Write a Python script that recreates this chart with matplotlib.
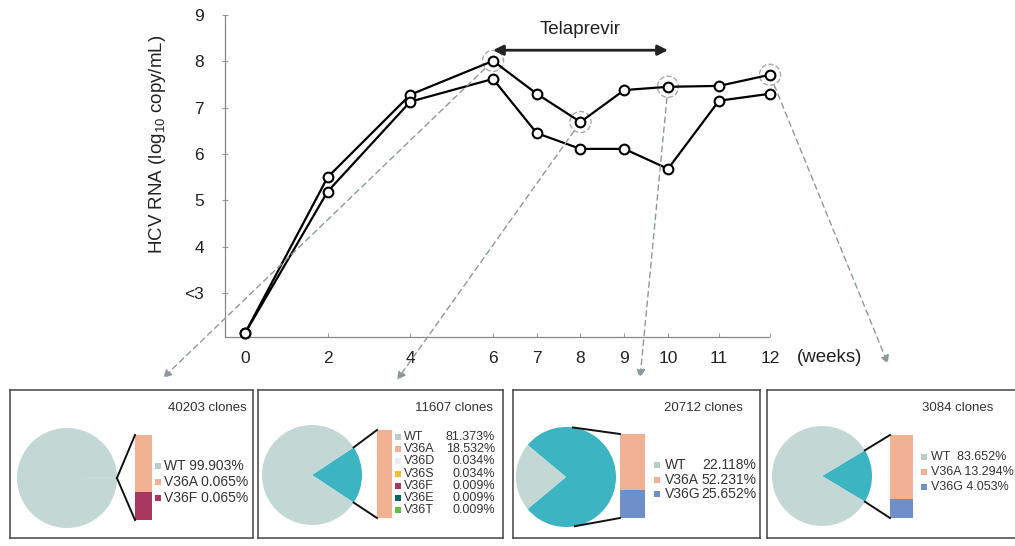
import numpy as np
import matplotlib
matplotlib.use("Agg")
import matplotlib.pyplot as plt

plt.rcParams['font.family'] = ['Liberation Sans', 'DejaVu Sans']
plt.rcParams['mathtext.fontset'] = 'custom'
plt.rcParams['mathtext.rm'] = 'Liberation Sans'
plt.rcParams['mathtext.it'] = 'Liberation Sans:italic'

W, H = 1015, 546

# ---- viral load data
weeks = [0, 2, 4, 6, 7, 8, 9, 10, 11, 12]
rna_upper = [2.13, 5.50, 7.28, 8.01, 7.30, 6.69, 7.38, 7.45, 7.47, 7.71]
rna_lower = [2.13, 5.19, 7.13, 7.62, 6.45, 6.11, 6.11, 5.68, 7.15, 7.30]
ytick_vals = [3, 4, 5, 6, 7, 8, 9]
ytick_text = ['<3', '4', '5', '6', '7', '8', '9']
sampled_weeks = [6, 8, 10, 12]
telaprevir_weeks = [6, 10]

# ---- clone panels
clone_counts = ['40203 clones', '11607 clones', '20712 clones', '3084 clones']
variants = [['WT', 'V36A', 'V36F'],
            ['WT', 'V36A', 'V36D', 'V36S', 'V36F', 'V36E', 'V36T'],
            ['WT', 'V36A', 'V36G'],
            ['WT', 'V36A', 'V36G']]
shares = [[99.903, 0.065, 0.032],
          [81.373, 18.532, 0.034, 0.034, 0.009, 0.009, 0.009],
          [22.118, 52.231, 25.652],
          [83.652, 13.294, 4.053]]
share_text = [['99.903%', '0.065%', '0.065%'],
              ['81.373%', '18.532%', '0.034%', '0.034%', '0.009%', '0.009%', '0.009%'],
              ['22.118%', '52.231%', '25.652%'],
              ['83.652%', '13.294%', '4.053%']]

pale = '#c3d8d5'
teal = '#3db4c2'
var_colors = {'WT': '#b9cbcb', 'V36A': '#f1b193', 'V36D': '#e3ebf3', 'V36S': '#f0c032',
              'V36F': '#a8365e', 'V36E': '#00665e', 'V36T': '#5cc040', 'V36G': '#6f8fc9'}

# panel layout in image pixels (y down)
layout = [
    dict(box=(10, 253), pie=(67, 478), bar=(135, 152, 435, 520), mx=158, tx=164, px=None,
         y0=466, dy=16, fs=10, title=(247, 'right'), sep=' '),
    dict(box=(258, 503), pie=(312, 475), bar=(377, 392, 430, 518), mx=398, tx=404, px=495,
         y0=437, dy=12.2, fs=9, title=(493, 'right'), sep=' '),
    dict(box=(513, 760), pie=(566, 477), bar=(620, 645, 434, 518), mx=657, tx=665, px=756,
         y0=465, dy=14.5, fs=10, title=(743, 'right'), sep=' '),
    dict(box=(767, 1030), pie=(822, 476), bar=(890, 913, 435, 518), mx=924, tx=931, px=None,
         y0=457, dy=15, fs=9, title=(922, 'left'), sep='  '),
]
R = 50
box_top, box_bot = 390, 538

fig = plt.figure(figsize=(W / 100, H / 100), dpi=100)

# ---- main line chart
ax = fig.add_axes([225 / W, (H - 337) / H, (770 - 225) / W, (337 - 15) / H])
wk_knots = [-12, 6, 10, 24]
px_knots = [245 - 12 * 41.33, 493, 668, 668 + 14 * 51]
fwd = lambda w: np.interp(w, wk_knots, px_knots)
inv = lambda u: np.interp(u, px_knots, wk_knots)
ax.set_xscale('function', functions=(fwd, inv))
ax.set_xlim(float(inv(225)), 12)
ax.set_ylim(2.05, 9)

for ser in (rna_upper, rna_lower):
    ax.plot(weeks, ser, color='black', lw=1.6, marker='o', ms=7, mfc='white',
            mec='black', mew=1.5, zorder=3, clip_on=False)

hi_vals = [rna_upper[weeks.index(w)] for w in sampled_weeks]
ax.scatter(sampled_weeks, hi_vals, s=230, facecolors='none', edgecolors='#aaaaaa',
           linestyles='--', linewidths=1, zorder=2, clip_on=False)

arrow_tips = [(163, 378), (397, 380), (640, 378), (888, 364)]
for w, v, tip in zip(sampled_weeks, hi_vals, arrow_tips):
    ax.annotate('', xy=(tip[0], H - tip[1]), xycoords='figure pixels',
                xytext=(w, v), textcoords='data', annotation_clip=False,
                arrowprops=dict(arrowstyle='-|>,head_length=0.5,head_width=0.25',
                                linestyle=(0, (4, 3)), color='#8a9a9a', lw=1,
                                shrinkA=8, shrinkB=0))

ax.annotate('', xy=(telaprevir_weeks[1], 8.24), xytext=(telaprevir_weeks[0], 8.24),
            arrowprops=dict(arrowstyle='<|-|>,head_length=0.6,head_width=0.3',
                            color='#222222', lw=2, shrinkA=0, shrinkB=0))
ax.text(np.mean(telaprevir_weeks), 8.68, 'Telaprevir', ha='center', va='center',
        fontsize=13.5, color='#222222')

ax.set_xticks(weeks)
ax.set_xticklabels([str(w) for w in weeks])
ax.set_yticks(ytick_vals)
ax.set_yticklabels(ytick_text)
ax.tick_params(axis='x', direction='in', length=3, color='#999999', pad=10,
               labelsize=12.5, labelcolor='#222222')
ax.tick_params(axis='y', direction='inout', length=4, color='#999999', pad=13,
               labelsize=12.5, labelcolor='#222222')
for s in ('top', 'right'):
    ax.spines[s].set_visible(False)
for s in ('left', 'bottom'):
    ax.spines[s].set_color('#888888')
    ax.spines[s].set_linewidth(0.9)
    ax.spines[s].set_linestyle((0, (1, 1)))

fig.text(157 / W, (H - 144) / H, 'HCV RNA (log$_{10}$ copy/mL)', rotation=90,
         ha='center', va='center', fontsize=13.5, color='#222222')
fig.text(797 / W, (H - 357) / H, '(weeks)', ha='left', va='center',
         fontsize=13.5, color='#222222')

# ---- clone panels
for i, L in enumerate(layout):
    x0, x1 = L['box']
    axp = fig.add_axes([x0 / W, (H - box_bot) / H, (x1 - x0) / W, (box_bot - box_top) / H])
    vals = shares[i]
    rest = sum(vals[1:])
    span = rest / sum(vals) * 360
    cx, cy = L['pie'][0], H - L['pie'][1]
    axp.pie([rest, vals[0]], colors=[teal, pale], startangle=-span / 2,
            center=(cx, cy), radius=R, wedgeprops=dict(linewidth=0))
    axp.set_xlim(x0, x1)
    axp.set_ylim(H - box_bot, H - box_top)
    axp.set_frame_on(True)
    axp.set_xticks([])
    axp.set_yticks([])
    for s in axp.spines.values():
        s.set_color('#444444')
        s.set_linewidth(1.1)

    # bar of pie
    bx0, bx1, btop, bbot = L['bar']
    seg = np.array(vals[1:])
    seg_h = seg / seg.sum() * (bbot - btop)
    bottoms = (H - btop) - np.cumsum(seg_h)
    axp.bar(bx0, seg_h, width=bx1 - bx0, bottom=bottoms, align='edge',
            color=[var_colors[v] for v in variants[i][1:]], linewidth=0)

    # connector lines
    half = span / 2
    for yc, sign in ((H - btop, 1), (H - bbot, -1)):
        dx, dy = bx0 - cx, yc - cy
        d = np.hypot(dx, dy)
        phi = np.degrees(np.arctan2(dy, dx))
        tang = phi + sign * np.degrees(np.arccos(R / d))
        a = min(half, tang) if sign > 0 else max(-half, tang)
        axp.plot([cx + R * np.cos(np.radians(a)), bx0],
                 [cy + R * np.sin(np.radians(a)), yc], color='#111111', lw=1.4)

    # legend rows
    for j, (name, pct) in enumerate(zip(variants[i], share_text[i])):
        yy = H - (L['y0'] + j * L['dy'])
        axp.plot(L['mx'], yy, marker='s', ms=5, color=var_colors[name], mew=0)
        if L['px'] is None:
            sep = L['sep'] if name == 'WT' else ' '
            axp.text(L['tx'], yy, name + sep + pct, ha='left', va='center',
                     fontsize=L['fs'], color='#333333')
        else:
            axp.text(L['tx'], yy, name, ha='left', va='center', fontsize=L['fs'], color='#333333')
            axp.text(L['px'], yy, pct, ha='right', va='center', fontsize=L['fs'], color='#333333')

    tx, ha = L['title']
    axp.text(tx, H - 408, clone_counts[i], ha=ha, va='center', fontsize=9.5, color='#333333')

fig.savefig('out.png', dpi=100)
